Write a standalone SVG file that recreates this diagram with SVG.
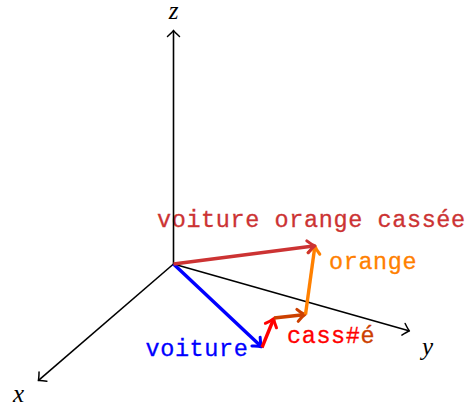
<svg xmlns="http://www.w3.org/2000/svg" width="475" height="410" viewBox="0 0 475 410">
  <style>
    .tt { font-family: "Liberation Mono", "DejaVu Sans Mono", monospace; font-size: 23.5px; letter-spacing: 0.6px; stroke-width: 0.3px; }
    .math { font-family: "Liberation Serif", "DejaVu Serif", serif; font-style: italic; font-size: 25px; fill: #000; }
    .axis { stroke: #000; stroke-width: 1.6; fill: none; marker-end: url(#axhead); }
    .vec { stroke-width: 3.4; fill: none; stroke-linecap: butt; }
  </style>
  <defs>
    <marker id="axhead" markerUnits="userSpaceOnUse" viewBox="-8 -8 12 16" markerWidth="12" markerHeight="16" refX="0" refY="0" orient="auto" overflow="visible">
      <path d="M -5.5,-6 Q -1.5,-1.5 0.6,0 Q -1.5,1.5 -5.5,6" stroke="#000" stroke-width="1.5" fill="none" stroke-linecap="round" stroke-linejoin="round"/>
    </marker>
    <marker id="hBlue" markerUnits="userSpaceOnUse" viewBox="-10 -10 16 20" markerWidth="16" markerHeight="20" refX="0" refY="0" orient="auto" overflow="visible">
      <path d="M -6,-6 Q -1.5,-1.5 1.5,0 Q -1.5,1.5 -6,6" stroke="#0000ff" stroke-width="3" fill="none" stroke-linecap="round" stroke-linejoin="round"/>
    </marker>
    <marker id="hRed" markerUnits="userSpaceOnUse" viewBox="-10 -10 16 20" markerWidth="16" markerHeight="20" refX="0" refY="0" orient="auto" overflow="visible">
      <path d="M -6,-6 Q -1.5,-1.5 1.5,0 Q -1.5,1.5 -6,6" stroke="#ff0000" stroke-width="3" fill="none" stroke-linecap="round" stroke-linejoin="round"/>
    </marker>
    <marker id="hBrown" markerUnits="userSpaceOnUse" viewBox="-10 -10 16 20" markerWidth="16" markerHeight="20" refX="0" refY="0" orient="auto" overflow="visible">
      <path d="M -6,-6 Q -1.5,-1.5 1.5,0 Q -1.5,1.5 -6,6" stroke="#cc4000" stroke-width="3" fill="none" stroke-linecap="round" stroke-linejoin="round"/>
    </marker>
    <marker id="hOrange" markerUnits="userSpaceOnUse" viewBox="-10 -10 16 20" markerWidth="16" markerHeight="20" refX="0" refY="0" orient="auto" overflow="visible">
      <path d="M -6,-6 Q -1.5,-1.5 1.5,0 Q -1.5,1.5 -6,6" stroke="#ff8000" stroke-width="3" fill="none" stroke-linecap="round" stroke-linejoin="round"/>
    </marker>
    <marker id="hSum" markerUnits="userSpaceOnUse" viewBox="-10 -10 16 20" markerWidth="16" markerHeight="20" refX="0" refY="0" orient="auto" overflow="visible">
      <path d="M -6,-6 Q -1.5,-1.5 1.5,0 Q -1.5,1.5 -6,6" stroke="#cc3333" stroke-width="3" fill="none" stroke-linecap="round" stroke-linejoin="round"/>
    </marker>
  </defs>

  <g id="label-sum"><text class="tt" x="157" y="227" fill="#cc3333" stroke="#cc3333">voiture orange cassée</text></g>
  <g id="label-voiture"><text class="tt" x="145.5" y="355.5" fill="#0000ff" stroke="#0000ff">voiture</text></g>
  <g id="label-casse"><text class="tt" x="287" y="342.5" fill="#ff0000" stroke="#ff0000">cass#<tspan fill="#cc4000" stroke="#cc4000">é</tspan></text></g>
  <g id="label-orange"><text class="tt" x="329" y="268.5" fill="#ff8000" stroke="#ff8000">orange</text></g>
  <g id="label-z"><text class="math" x="173.5" y="19" text-anchor="middle">z</text></g>
  <g id="label-y"><text class="math" x="427.5" y="354.5" text-anchor="middle">y</text></g>
  <g id="label-x"><text class="math" x="18.5" y="401.5" text-anchor="middle">x</text></g>

  <g id="connectors">
    <line class="axis" x1="173.5" y1="264" x2="173.5" y2="31"/>
    <line class="axis" x1="173.5" y1="264" x2="408.8" y2="330.8"/>
    <line class="axis" x1="173.5" y1="264" x2="38.8" y2="380.2"/>
    <line class="vec" stroke="#0000ff" marker-end="url(#hBlue)" x1="173.5" y1="264" x2="260.4" y2="345.8"/>
    <line class="vec" stroke="#ff0000" marker-end="url(#hRed)" x1="262" y1="347.5" x2="273.2" y2="320"/>
    <line class="vec" stroke="#cc4000" marker-end="url(#hBrown)" x1="274" y1="318" x2="303.5" y2="314.7"/>
    <line class="vec" stroke="#ff8000" marker-end="url(#hOrange)" x1="305.5" y1="314.5" x2="314.7" y2="247.5"/>
    <line class="vec" stroke="#cc3333" marker-end="url(#hSum)" x1="173.5" y1="264" x2="313.5" y2="246"/>
  </g>
</svg>
